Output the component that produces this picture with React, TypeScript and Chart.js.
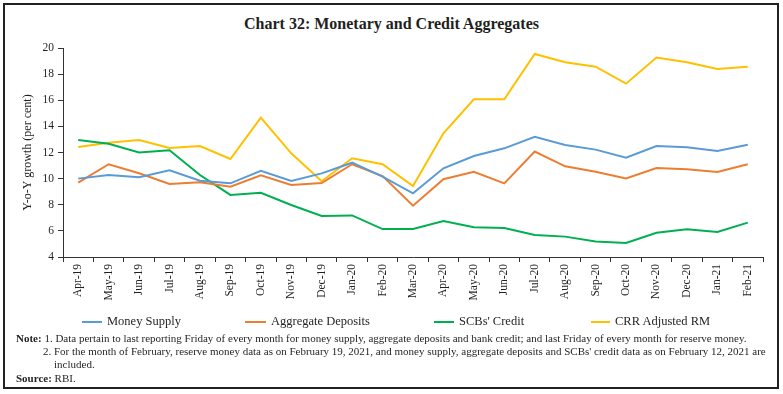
import React, { useEffect, useRef } from 'react';
import { Chart, registerables } from 'chart.js';

Chart.register(...registerables);

const categories = [
  'Apr-19', 'May-19', 'Jun-19', 'Jul-19', 'Aug-19', 'Sep-19', 'Oct-19', 'Nov-19', 'Dec-19',
  'Jan-20', 'Feb-20', 'Mar-20', 'Apr-20', 'May-20', 'Jun-20', 'Jul-20', 'Aug-20', 'Sep-20',
  'Oct-20', 'Nov-20', 'Dec-20', 'Jan-21', 'Feb-21',
];

const moneySupply = [10.0, 10.28, 10.1, 10.63, 9.84, 9.64, 10.6, 9.82, 10.4, 11.22, 10.15, 8.88, 10.79, 11.73, 12.32, 13.21, 12.58, 12.22, 11.6, 12.5, 12.4, 12.12, 12.6];
const aggregateDeposits = [9.69, 11.1, 10.41, 9.59, 9.72, 9.38, 10.26, 9.51, 9.66, 11.1, 10.2, 7.93, 9.95, 10.53, 9.64, 12.07, 10.94, 10.53, 10.02, 10.81, 10.71, 10.51, 11.1];
const scbsCredit = [12.96, 12.67, 12.0, 12.17, 10.28, 8.75, 8.92, 7.98, 7.14, 7.18, 6.14, 6.14, 6.76, 6.27, 6.22, 5.68, 5.56, 5.18, 5.07, 5.86, 6.12, 5.91, 6.63];
const crrAdjustedRM = [12.42, 12.75, 12.96, 12.35, 12.5, 11.5, 14.67, 11.94, 9.8, 11.56, 11.1, 9.44, 13.47, 16.07, 16.07, 19.54, 18.91, 18.57, 17.27, 19.27, 18.91, 18.4, 18.57];

const seriesNames = ['Money Supply', 'Aggregate Deposits', "SCBs' Credit", 'CRR Adjusted RM'];
const seriesColors = ['#5B9BD5', '#ED7D31', '#00B050', '#FFC000'];

const yMin = 4;
const yMax = 20;
const yStep = 2;

const titleText = 'Chart 32: Monetary and Credit Aggregates';
const yAxisTitle = 'Y-o-Y growth (per cent)';

const SERIF = '"Liberation Serif", "DejaVu Serif", serif';
const TEXT = '#231f20';

export default function App() {
  const canvasRef = useRef<HTMLCanvasElement | null>(null);

  useEffect(() => {
    const canvas = canvasRef.current;
    if (!canvas) return;
    const seriesData = [moneySupply, aggregateDeposits, scbsCredit, crrAdjustedRM];
    const chart = new Chart(canvas, {
      type: 'line',
      data: {
        labels: categories,
        datasets: seriesData.map((d, i) => ({
          label: seriesNames[i],
          data: d,
          borderColor: seriesColors[i],
          backgroundColor: seriesColors[i],
          borderWidth: 2,
          pointRadius: 0,
          tension: 0,
          fill: false,
        })),
      },
      options: {
        responsive: false,
        animation: false,
        devicePixelRatio: 1,
        layout: { padding: { top: 48, left: 0, right: 20, bottom: 0 } },
        plugins: {
          legend: { display: false },
          tooltip: { enabled: false },
          title: { display: false },
        },
        scales: {
          x: {
            type: 'category',
            offset: true,
            grid: {
              offset: true,
              drawOnChartArea: false,
              drawTicks: true,
              tickLength: 5,
              color: '#333',
              lineWidth: 1,
            },
            border: { display: true, color: '#333', width: 1 },
            ticks: {
              autoSkip: false,
              minRotation: 90,
              maxRotation: 90,
              padding: 2,
              color: TEXT,
              font: { family: SERIF, size: 11.5 },
            },
            afterFit: (scale: any) => {
              scale.height = 61;
            },
          },
          y: {
            min: yMin,
            max: yMax,
            ticks: {
              stepSize: yStep,
              padding: 4,
              color: TEXT,
              font: { family: SERIF, size: 11.5 },
            },
            grid: {
              drawOnChartArea: false,
              drawTicks: true,
              tickLength: 5,
              color: '#333',
              lineWidth: 1,
            },
            border: { display: true, color: '#333', width: 1 },
            title: {
              display: true,
              text: yAxisTitle,
              color: TEXT,
              font: { family: SERIF, size: 12 },
              padding: { top: 21, bottom: 0 },
            },
            afterFit: (scale: any) => {
              scale.width = 63;
            },
          },
        },
      },
    });
    return () => chart.destroy();
  }, []);

  const legendPos = [
    { line: 82, text: 107 },
    { line: 245, text: 271 },
    { line: 434, text: 459 },
    { line: 591, text: 615 },
  ];

  const noteStyle: React.CSSProperties = {
    position: 'absolute',
    fontFamily: SERIF,
    fontSize: 11,
    color: TEXT,
    whiteSpace: 'nowrap',
    lineHeight: '12px',
  };

  return (
    <div style={{ position: 'fixed', left: 0, top: 0, width: 783, height: 394, background: '#fff', overflow: 'hidden' }}>
      <div
        style={{
          position: 'absolute',
          left: 3,
          top: 3,
          width: 776,
          height: 386,
          border: '2px solid #222',
          boxSizing: 'border-box',
        }}
      />
      <div
        style={{
          position: 'absolute',
          left: 0,
          top: 14,
          width: 783,
          textAlign: 'center',
          fontFamily: SERIF,
          fontWeight: 'bold',
          fontSize: 16,
          lineHeight: '20px',
          color: TEXT,
        }}
      >
        {titleText}
      </div>
      <canvas
        ref={canvasRef}
        width={783}
        height={318}
        style={{ position: 'absolute', left: 0, top: 0, width: 783, height: 318 }}
      />
      {seriesNames.map((name, i) => (
        <React.Fragment key={name}>
          <div
            style={{
              position: 'absolute',
              left: legendPos[i].line,
              top: 321,
              width: legendPos[i].text - legendPos[i].line - 5,
              height: 0,
              borderTop: `2px solid ${seriesColors[i]}`,
            }}
          />
          <div
            style={{
              position: 'absolute',
              left: legendPos[i].text,
              top: 313,
              fontFamily: SERIF,
              fontSize: 12.5,
              lineHeight: '16px',
              color: TEXT,
              whiteSpace: 'nowrap',
            }}
          >
            {name}
          </div>
        </React.Fragment>
      ))}
      <div style={{ ...noteStyle, left: 16, top: 332 }}>
        <b>Note:</b> 1. Data pertain to last reporting Friday of every month for money supply, aggregate deposits and bank credit; and last Friday of every month for reserve money.
      </div>
      <div style={{ ...noteStyle, left: 43, top: 345 }}>
        2. For the month of February, reserve money data as on February 19, 2021, and money supply, aggregate deposits and SCBs' credit data as on February 12, 2021 are
      </div>
      <div style={{ ...noteStyle, left: 54, top: 358 }}>included.</div>
      <div style={{ ...noteStyle, left: 16, top: 372 }}>
        <b>Source:</b> RBI.
      </div>
    </div>
  );
}
